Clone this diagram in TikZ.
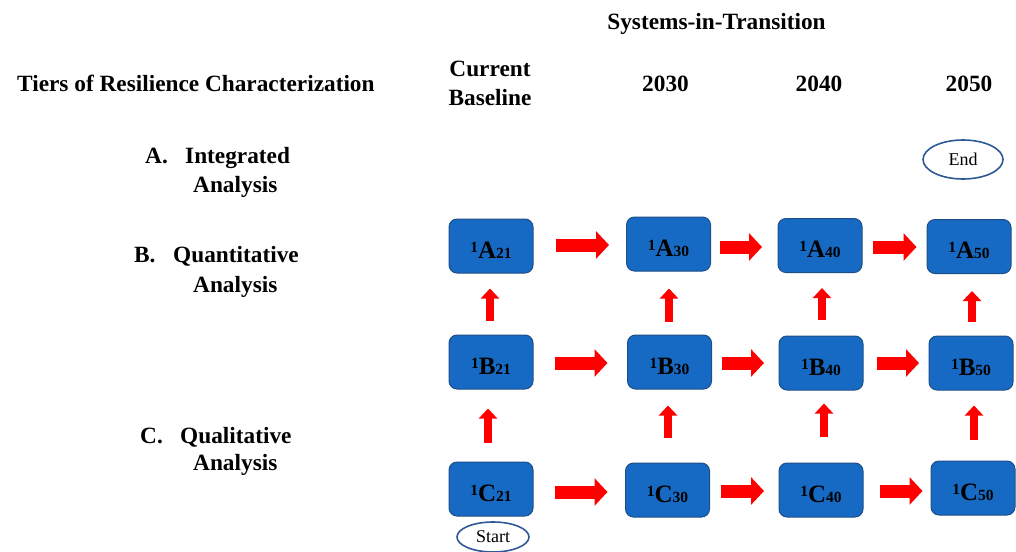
\documentclass[tikz,border=0pt]{standalone}
\usepackage{fontspec}
\setmainfont{Liberation Serif}
\usetikzlibrary{arrows.meta,shapes.geometric}
\definecolor{boxfill}{RGB}{22,106,196}
\definecolor{boxline}{RGB}{30,78,135}
\definecolor{ellline}{RGB}{46,88,150}
\definecolor{arrred}{RGB}{255,0,0}
\tikzset{
  stagebox/.style={draw=boxline, line width=1pt, fill=boxfill, rounded corners=8pt,
    minimum width=84pt, minimum height=54pt, inner sep=0pt, text height=24pt, text depth=0pt,
    font=\bfseries\fontsize{25}{25}\selectfont},
  lbl/.style={inner sep=0pt, font=\bfseries\fontsize{23.3}{27}\selectfont},
  term/.style={draw=ellline, line width=1.6pt, fill=white, ellipse, inner sep=0pt,
    font=\fontsize{18}{18}\selectfont},
  harrow/.style={draw=arrred, line width=13pt, -{Triangle[length=13pt,width=27pt]}},
  varrow/.style={draw=arrred, line width=8pt, -{Triangle[length=10pt,width=18pt]}}
}
\newcommand{\stg}[2]{{\fontsize{15.5}{15.5}\selectfont\raisebox{6pt}{1}}#1{\fontsize{15.5}{15.5}\selectfont #2}}
\begin{document}
\begin{tikzpicture}[x=1pt,y=-1pt]
\useasboundingbox (0,0) rectangle (1016,551);
% headers
\node[lbl, anchor=base] (sys) at (716.5,30) {Systems-in-Transition};
\node[lbl, anchor=base west] (tiers) at (17,91.5) {Tiers of Resilience Characterization};
\node[lbl, anchor=base] (cur) at (490,76) {Current};
\node[lbl, anchor=base] (base) at (490,105) {Baseline};
\node[lbl, anchor=base] (y30) at (665.5,91) {2030};
\node[lbl, anchor=base] (y40) at (819,91) {2040};
\node[lbl, anchor=base] (y50) at (969,91) {2050};
% tier labels
\node[lbl, anchor=base west] (la) at (145,163) {A.};
\node[lbl, anchor=base west] (lat) at (185,163) {Integrated};
\node[lbl, anchor=base west] (laa) at (193,192.5) {Analysis};
\node[lbl, anchor=base west] (lb) at (134,262) {B.};
\node[lbl, anchor=base west] (lbt) at (173,262) {Quantitative};
\node[lbl, anchor=base west] (lba) at (193,292.5) {Analysis};
\node[lbl, anchor=base west] (lc) at (140,443) {C.};
\node[lbl, anchor=base west] (lct) at (180,443) {Qualitative};
\node[lbl, anchor=base west] (lca) at (193,470) {Analysis};
% boxes
\node[stagebox] (A21) at (491,246) {\stg{A}{21}};
\node[stagebox] (A30) at (668.5,244) {\stg{A}{30}};
\node[stagebox] (A40) at (820,245.5) {\stg{A}{40}};
\node[stagebox] (A50) at (969,246.5) {\stg{A}{50}};
\node[stagebox] (B21) at (491,362) {\stg{B}{21}};
\node[stagebox] (B30) at (669.5,362) {\stg{B}{30}};
\node[stagebox] (B40) at (821,363) {\stg{B}{40}};
\node[stagebox] (B50) at (971,363) {\stg{B}{50}};
\node[stagebox] (C21) at (491,489) {\stg{C}{21}};
\node[stagebox] (C30) at (667.5,490) {\stg{C}{30}};
\node[stagebox] (C40) at (821,490) {\stg{C}{40}};
\node[stagebox] (C50) at (973,488) {\stg{C}{50}};
% terminals
\node[term, minimum width=80pt, minimum height=39pt] (end) at (963,159.5) {End};
\node[term, minimum width=72pt, minimum height=30pt] (start) at (493,537) {Start};
% horizontal arrows
\draw[harrow, shorten <=22pt, shorten >=17pt] (A21.east |- 0,245) -- (A30.west |- 0,245);
\draw[harrow, shorten <=8.5pt, shorten >=15.5pt] (A30.east |- 0,247) -- (A40.west |- 0,247);
\draw[harrow, shorten <=10.5pt, shorten >=10pt] (A40.east |- 0,247) -- (A50.west |- 0,247);
\draw[harrow, shorten <=21pt, shorten >=19.5pt] (B21.east |- 0,363) -- (B30.west |- 0,363);
\draw[harrow, shorten <=10pt, shorten >=14.5pt] (B30.east |- 0,363) -- (B40.west |- 0,363);
\draw[harrow, shorten <=13pt, shorten >=9.5pt] (B40.east |- 0,363) -- (B50.west |- 0,363);
\draw[harrow, shorten <=21pt, shorten >=17.5pt] (C21.east |- 0,492) -- (C30.west |- 0,492);
\draw[harrow, shorten <=11pt, shorten >=14.5pt] (C30.east |- 0,491) -- (C40.west |- 0,491);
\draw[harrow, shorten <=16pt, shorten >=8pt] (C40.east |- 0,491) -- (C50.west |- 0,491);
% vertical arrows
\draw[varrow, shorten <=13.5pt, shorten >=15pt] (B21.north -| 490,0) -- (A21.south -| 490,0);
\draw[varrow, shorten <=19pt, shorten >=19pt] (C21.north -| 488,0) -- (B21.south -| 488,0);
\draw[varrow, shorten <=13pt, shorten >=17pt] (B30.north -| 669,0) -- (A30.south -| 669,0);
\draw[varrow, shorten <=25pt, shorten >=16pt] (C30.north -| 668,0) -- (B30.south -| 668,0);
\draw[varrow, shorten <=15.5pt, shorten >=15pt] (B40.north -| 822,0) -- (A40.south -| 822,0);
\draw[varrow, shorten <=26pt, shorten >=13pt] (C40.north -| 824,0) -- (B40.south -| 824,0);
\draw[varrow, shorten <=14pt, shorten >=17pt] (B50.north -| 972,0) -- (A50.south -| 972,0);
\draw[varrow, shorten <=21pt, shorten >=15pt] (C50.north -| 974,0) -- (B50.south -| 974,0);
\end{tikzpicture}
\end{document}
